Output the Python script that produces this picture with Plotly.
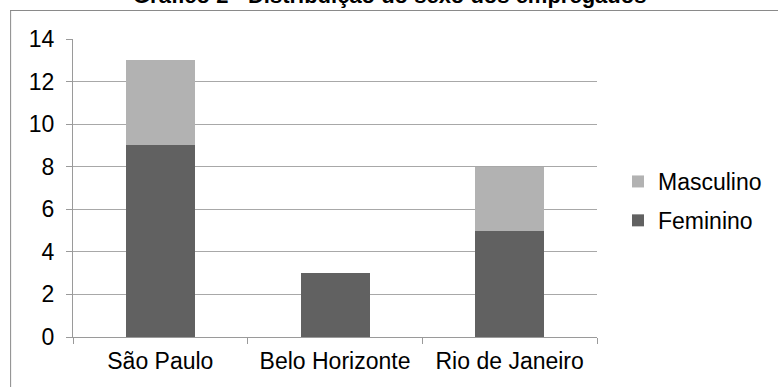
import plotly.graph_objects as go

categories = ["São Paulo", "Belo Horizonte", "Rio de Janeiro"]
feminino = [9, 3, 5]
masculino = [4, 0, 3]
title_text = "Gráfico 2 - Distribuição do sexo dos empregados"

W, H = 778, 387
L, R, T, B = 73, 180, 39, 50
pw, ph = W - L - R, H - T - B

def px_x(p):
    return (p - L) / pw

def px_y(p):
    return 1 - (p - T) / ph

fig = go.Figure()
fig.add_trace(go.Bar(x=categories, y=feminino, name="Feminino",
                     marker=dict(color="#616161", line=dict(width=0)),
                     legendgroup="f", legendrank=2))
fig.add_trace(go.Bar(x=categories, y=masculino, name="Masculino",
                     marker=dict(color="#b2b2b2", line=dict(width=0)),
                     legendgroup="m", legendrank=1))

font_family = "Liberation Sans, Arial, sans-serif"
FS = 23

fig.update_layout(
    width=W, height=H,
    margin=dict(l=L, r=R, t=T, b=B, pad=0),
    barmode="stack",
    bargap=0.605,
    plot_bgcolor="white",
    paper_bgcolor="white",
    font=dict(family=font_family, size=FS, color="black"),
    showlegend=True,
    legend=dict(
        x=px_x(618), y=px_y(160), xanchor="left", yanchor="top",
        traceorder="grouped", tracegroupgap=6,
        font=dict(size=FS), itemwidth=30,
        bgcolor="rgba(0,0,0,0)",
    ),
    xaxis=dict(
        showline=True, linecolor="#9a9a9a", linewidth=1,
        ticks="outside", tickson="boundaries", ticklen=6, tickcolor="#9a9a9a",
        showgrid=False, tickfont=dict(size=FS),
        ticklabelstandoff=3,
    ),
    yaxis=dict(
        range=[0, 14], dtick=2, tick0=0,
        showline=True, linecolor="#9a9a9a", linewidth=1,
        ticks="outside", ticklen=6, tickcolor="#9a9a9a",
        showgrid=True, gridcolor="#a8a8a8", gridwidth=1,
        zeroline=False, tickfont=dict(size=FS),
        ticklabelstandoff=7,
    ),
    shapes=[
        dict(type="line", xref="paper", yref="paper",
             x0=px_x(10), x1=px_x(790), y0=px_y(10.5), y1=px_y(10.5),
             line=dict(color="#8a8a8a", width=1)),
        dict(type="line", xref="paper", yref="paper",
             x0=px_x(10.5), x1=px_x(10.5), y0=px_y(10), y1=px_y(400),
             line=dict(color="#8a8a8a", width=1)),
    ],
    annotations=[
        dict(text="<b>" + title_text + "</b>", xref="paper", yref="paper",
             x=px_x(390), y=px_y(10), xanchor="center", yanchor="bottom",
             showarrow=False, font=dict(size=22, color="black")),
    ],
)

fig.write_html("out.html")
